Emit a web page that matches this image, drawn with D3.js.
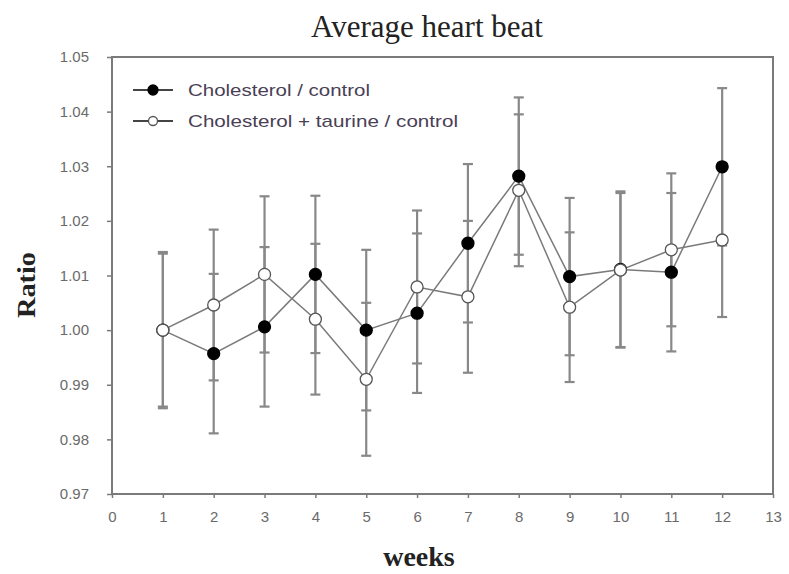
<!DOCTYPE html>
<html><head><meta charset="utf-8">
<script src="https://cdn.jsdelivr.net/npm/d3@7"></script>
<style>body{margin:0;background:#fff}</style>
</head><body>
<script>
const weeks = [1,2,3,4,5,6,7,8,9,10,11,12];
const cholMean = [1.000,0.9957,1.0006,1.0102,1.0000,1.0031,1.0159,1.0282,1.0098,1.0111,1.0106,1.0299];
const cholErr  = [0.0143,0.0146,0.0146,0.0144,0.0147,0.0146,0.0145,0.0144,0.0144,0.0143,0.0145,0.0144];
const taurMean = [1.000,1.0046,1.0102,1.0020,0.9910,1.0079,1.0061,1.0256,1.0042,1.0110,1.0147,1.0165];
const taurErr  = [0.0140,0.0138,0.0143,0.0138,0.0140,0.0140,0.0139,0.0139,0.0137,0.0141,0.0140,0.0141];
const xTicks = [0,1,2,3,4,5,6,7,8,9,10,11,12,13];
const yTicks = [0.97,0.98,0.99,1.00,1.01,1.02,1.03,1.04,1.05];
const seriesNames = ["Cholesterol / control","Cholesterol + taurine / control"];

const W=789,H=574;
const svg=d3.select("body").append("svg").attr("width",W).attr("height",H);
const L=112,R=773,T=57,B=494;
const x=d3.scaleLinear().domain([0,13]).range([L,R]);
const y=d3.scaleLinear().domain([0.97,1.05]).range([B,T]);
const grey="#7a7a7a";
const sans="Arial, 'Liberation Sans', sans-serif";
const serif="'Liberation Serif','Times New Roman',serif";

svg.append("rect").attr("x",L).attr("y",T).attr("width",R-L).attr("height",B-T)
  .attr("fill","none").attr("stroke",grey).attr("stroke-width",2);

const yAx=svg.append("g").attr("transform",`translate(${L},0)`)
  .call(d3.axisLeft(y).tickValues(yTicks).tickFormat(d3.format(".2f")).tickSize(5).tickPadding(18));
const xAx=svg.append("g").attr("transform",`translate(0,${B})`)
  .call(d3.axisBottom(x).tickValues(xTicks).tickFormat(d3.format("d")).tickSize(4).tickPadding(13));
[yAx,xAx].forEach(a=>{
  a.select(".domain").remove();
  a.selectAll("line").attr("stroke",grey).attr("stroke-width",1.5);
  a.selectAll("text").attr("fill","#6a6a6a").attr("font-family",sans).attr("font-size",15);
});

svg.append("text").attr("x",427).attr("y",37).attr("text-anchor","middle")
  .attr("font-family",serif).attr("font-size",31).attr("fill","#222")
  .text("Average heart beat");
svg.append("text").attr("transform","translate(35,285) rotate(-90)").attr("text-anchor","middle")
  .attr("font-family",serif).attr("font-weight","bold").attr("font-size",26).attr("fill","#222")
  .attr("textLength",66).attr("lengthAdjust","spacingAndGlyphs")
  .text("Ratio");
svg.append("text").attr("x",419).attr("y",566).attr("text-anchor","middle")
  .attr("font-family",serif).attr("font-weight","bold").attr("font-size",28).attr("fill","#222")
  .text("weeks");

const series=[
  {mean:cholMean,err:cholErr,fill:"#000"},
  {mean:taurMean,err:taurErr,fill:"#fff"}
];
series.forEach(s=>{
  const g=svg.append("g").attr("stroke","#888").attr("stroke-width",2.2);
  weeks.forEach((w,i)=>{
    const hi=s.mean[i]+s.err[i], lo=s.mean[i]-s.err[i];
    g.append("line").attr("x1",x(w)).attr("x2",x(w)).attr("y1",y(hi)).attr("y2",y(lo));
    g.append("line").attr("x1",x(w)-5).attr("x2",x(w)+5).attr("y1",y(hi)).attr("y2",y(hi));
    g.append("line").attr("x1",x(w)-5).attr("x2",x(w)+5).attr("y1",y(lo)).attr("y2",y(lo));
  });
});
const line=d3.line();
series.forEach(s=>{
  svg.append("path").attr("d",line(weeks.map((w,i)=>[x(w),y(s.mean[i])])))
    .attr("fill","none").attr("stroke",grey).attr("stroke-width",1.5);
});
series.forEach(s=>{
  svg.append("g").selectAll("circle").data(weeks).join("circle")
    .attr("cx",w=>x(w)).attr("cy",(w,i)=>y(s.mean[i])).attr("r",6)
    .attr("fill",s.fill).attr("stroke",s.fill==="#000"?"#000":"#555").attr("stroke-width",1.3);
});

const legW=[182,270];
const lg=svg.append("g");
seriesNames.forEach((n,i)=>{
  const yy=90+i*31;
  lg.append("line").attr("x1",133).attr("x2",173).attr("y1",yy).attr("y2",yy).attr("stroke","#444").attr("stroke-width",2);
  lg.append("circle").attr("cx",153).attr("cy",yy).attr("r",i===0?5:4.5)
    .attr("fill",series[i].fill).attr("stroke",i===0?"#000":"#555").attr("stroke-width",1.3);
  lg.append("text").attr("x",188).attr("y",yy+6).attr("font-family",sans)
    .attr("font-size",17).attr("fill","#4a3f55")
    .attr("textLength",legW[i]).attr("lengthAdjust","spacingAndGlyphs").text(n);
});
</script>
</body></html>
